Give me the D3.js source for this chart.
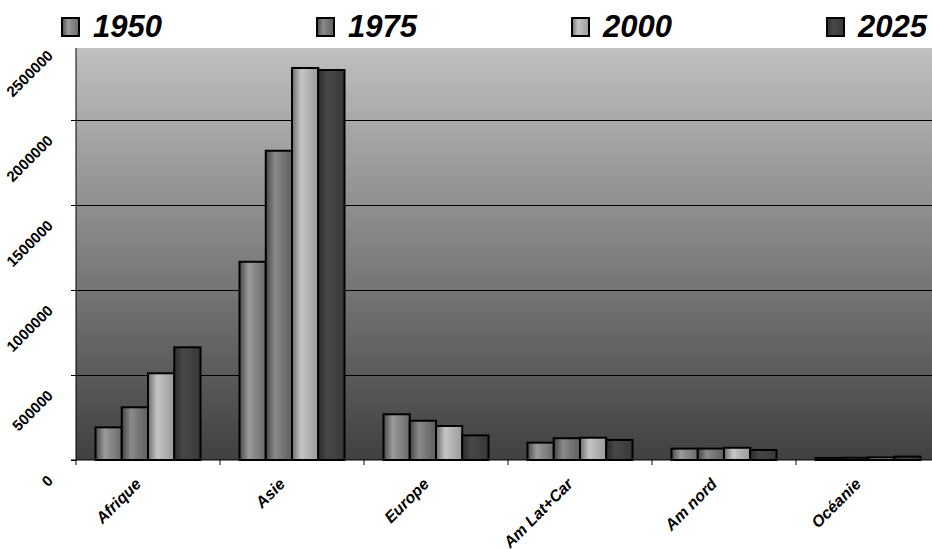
<!DOCTYPE html>
<html>
<head>
<meta charset="utf-8">
<script src="https://cdn.jsdelivr.net/npm/d3@7"></script>
<style>
  html, body { margin: 0; padding: 0; background: #fff; }
  svg { display: block; }
</style>
</head>
<body>
<svg id="chart" width="932" height="549"></svg>
<script>
// Population by region (thousands)
const categories = ["Afrique", "Asie", "Europe", "Am Lat+Car", "Am nord", "Océanie"];
const seriesNames = ["1950", "1975", "2000", "2025"];
const values1950 = [192000, 1166000, 269000, 102000, 67000, 12000];
const values1975 = [310000, 1819000, 231000, 128000, 67000, 13000];
const values2000 = [510000, 2306000, 200000, 131000, 72000, 15000];
const values2025 = [663000, 2294000, 145000, 118000, 59000, 20000];
const yTicks = [0, 500000, 1000000, 1500000, 2000000, 2500000];

const seriesValues = [values1950, values1975, values2000, values2025];

const svg = d3.select("#chart");
const defs = svg.append("defs");

// plot frame
const left = 76, right = 940, bottom = 460, plotTop = 48;

// vertical background gradient of the plot area
const bg = defs.append("linearGradient").attr("id", "bgGrad")
  .attr("x1", 0).attr("y1", 0).attr("x2", 0).attr("y2", 1);
bg.append("stop").attr("offset", "0%").attr("stop-color", "#c0c0c0");
bg.append("stop").attr("offset", "100%").attr("stop-color", "#404040");

// cylinder-like horizontal shading for each series
const shades = [
  ["#4a4a4a", "#9a9a9a", "#6a6a6a"],
  ["#454545", "#8a8a8a", "#5e5e5e"],
  ["#6c6c6c", "#c6c6c6", "#9a9a9a"],
  ["#2c2c2c", "#484848", "#383838"]
];
seriesNames.forEach((s, i) => {
  const g = defs.append("linearGradient").attr("id", "barGrad" + i)
    .attr("x1", 0).attr("y1", 0).attr("x2", 1).attr("y2", 0);
  g.append("stop").attr("offset", "0%").attr("stop-color", shades[i][0]);
  g.append("stop").attr("offset", "35%").attr("stop-color", shades[i][1]);
  g.append("stop").attr("offset", "100%").attr("stop-color", shades[i][2]);
});

const x0 = d3.scaleBand().domain(categories).range([left, right]).paddingInner(0).paddingOuter(0);
const x1 = d3.scaleBand().domain(seriesNames).range([0, x0.bandwidth()]).paddingInner(0).paddingOuter(0.743);
const y = d3.scaleLinear().domain([0, 2500000]).range([bottom, 35]);

// plot background
svg.append("rect")
  .attr("x", left).attr("y", plotTop)
  .attr("width", right - left).attr("height", bottom - plotTop)
  .attr("fill", "url(#bgGrad)");

// gridlines
svg.append("g").selectAll("line")
  .data(yTicks.filter(t => t > 0 && y(t) > plotTop))
  .join("line")
  .attr("x1", left).attr("x2", right)
  .attr("y1", d => y(d)).attr("y2", d => y(d))
  .attr("stroke", "#000").attr("stroke-width", 1)
  .attr("shape-rendering", "crispEdges");

// bars
const groups = svg.append("g").selectAll("g")
  .data(categories)
  .join("g")
  .attr("transform", d => `translate(${x0(d)},0)`);

groups.selectAll("rect")
  .data((c, ci) => seriesNames.map((s, si) => ({ s, si, v: seriesValues[si][ci] })))
  .join("rect")
  .attr("x", d => x1(d.s))
  .attr("y", d => y(d.v))
  .attr("width", x1.bandwidth())
  .attr("height", d => bottom - y(d.v))
  .attr("fill", d => `url(#barGrad${d.si})`)
  .attr("stroke", "#000")
  .attr("stroke-width", 2);

// y axis
const yAxis = svg.append("g")
  .attr("transform", `translate(${left},0)`)
  .call(d3.axisLeft(y).tickValues(yTicks).tickSize(5).tickFormat(d3.format("d")));
yAxis.select(".domain").attr("d", `M-5,${bottom}H0V${plotTop}`).attr("stroke", "#000");
yAxis.selectAll(".tick line").attr("stroke", "#000");
yAxis.selectAll(".tick").filter(d => y(d) < plotTop).select("line").remove();
yAxis.selectAll(".tick text")
  .attr("x", 0).attr("dy", 0)
  .attr("text-anchor", "end")
  .attr("transform", "translate(-22,21) rotate(-45)")
  .attr("font-family", "'Liberation Sans', Arial, sans-serif")
  .attr("font-weight", "bold")
  .attr("font-size", 15)
  .attr("fill", "#000");

// x axis
const xAxis = svg.append("g")
  .attr("transform", `translate(0,${bottom})`)
  .call(d3.axisBottom(x0).tickSize(0).tickSizeOuter(0));
xAxis.select(".domain").attr("d", `M${left},0H${right}`).attr("stroke", "#000");
// category boundary ticks
xAxis.append("g").selectAll("line")
  .data(categories)
  .join("line")
  .attr("x1", d => x0(d)).attr("x2", d => x0(d))
  .attr("y1", 0).attr("y2", 5)
  .attr("stroke", "#000");
xAxis.selectAll(".tick text")
  .attr("y", 0).attr("dy", 0)
  .attr("text-anchor", "end")
  .attr("transform", "translate(-6,25) rotate(-45)")
  .attr("font-family", "'Liberation Sans', Arial, sans-serif")
  .attr("font-weight", "bold")
  .attr("font-style", "italic")
  .attr("font-size", 16)
  .attr("fill", "#000");

// legend
const legend = svg.append("g").selectAll("g")
  .data(seriesNames)
  .join("g")
  .attr("transform", (d, i) => `translate(${62 + i * 255},18)`);
legend.append("rect")
  .attr("width", 17).attr("height", 18)
  .attr("fill", (d, i) => `url(#barGrad${i})`)
  .attr("stroke", "#000").attr("stroke-width", 2);
legend.append("text")
  .attr("x", 31).attr("y", 19)
  .attr("font-family", "'Liberation Sans', Arial, sans-serif")
  .attr("font-weight", "bold")
  .attr("font-style", "italic")
  .attr("font-size", 31)
  .attr("fill", "#000")
  .text(d => d);
</script>
</body>
</html>
